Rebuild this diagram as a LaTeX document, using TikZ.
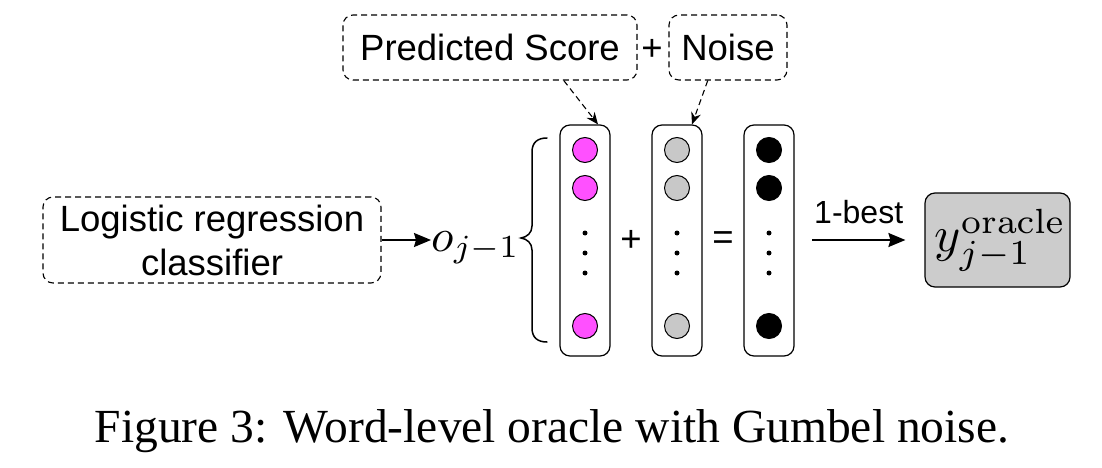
\documentclass[tikz,border=0pt]{standalone}
\usepackage[no-math]{fontspec}
\setmainfont{Liberation Serif}
\setsansfont{Liberation Sans}
\usetikzlibrary{arrows.meta,calc}
\definecolor{pinkc}{RGB}{255,80,255}
\definecolor{lgray}{RGB}{200,200,200}
\definecolor{ogray}{RGB}{204,204,204}
\tikzset{
  sansbig/.style={font=\sffamily\fontsize{36.5}{44}\selectfont},
  dbox/.style={draw, dashed, dash pattern=on 6pt off 4pt, rounded corners=10pt, line width=1.1pt, inner sep=0pt, sansbig},
  colbox/.style={draw, rounded corners=10pt, line width=1.2pt, minimum width=50pt, minimum height=231pt, inner sep=0pt},
  dotc/.style={circle, draw, line width=1pt, minimum size=25pt, inner sep=0pt},
  smalldot/.style={circle, fill=black, minimum size=5pt, inner sep=0pt},
  dar/.style={-{Stealth[length=12pt,width=10pt]}, dashed, dash pattern=on 6pt off 4pt, line width=1.1pt},
  sar/.style={-{Stealth[length=17pt,width=14pt,inset=2pt]}, line width=1.8pt},
}
\begin{document}
\begin{tikzpicture}[x=1pt,y=-1pt]
\useasboundingbox[fill=white] (0,0) rectangle (1102,468);
% top boxes
\node[dbox, minimum width=294pt, minimum height=65pt] (ps) at (490,47.5) {Predicted Score};
\node[dbox, minimum width=118pt, minimum height=65pt] (ns) at (728,47.5) {Noise};
\node[sansbig, inner sep=0pt] (plustop) at (652,50) {+};
% columns
\node[colbox] (c1) at (585,240.5) {};
\node[colbox] (c2) at (677,240.5) {};
\node[colbox] (c3) at (769,240.5) {};
\foreach \c/\x/\col in {1/585/pinkc, 2/677/lgray, 3/769/black} {
  \node[dotc, fill=\col] (a\c) at (\x,150) {};
  \node[dotc, fill=\col] (b\c) at (\x,188) {};
  \node[dotc, fill=\col] (z\c) at (\x,326) {};
  \node[smalldot] (d\c a) at (\x,233) {};
  \node[smalldot] (d\c b) at (\x,253) {};
  \node[smalldot] (d\c c) at (\x,273) {};
}
\node[sansbig, inner sep=0pt] (plusmid) at (631,241) {+};
\node[sansbig, inner sep=0pt] (eqmid) at (723,241) {=};
% dashed arrows
\draw[dar] ($(ps.south west)!0.75!(ps.south east)$) -- ($(c1.north)+(13,0)$);
\draw[dar] ($(ns.south west)!0.33!(ns.south east)$) -- ($(c2.north)+(15,0)$);
% logistic box
\node[dbox, minimum width=338pt, minimum height=86pt, align=center] (lr) at (212,240) {Logistic regression\\classifier};
\node[inner sep=0pt, anchor=base west] (o) at (431,251) {\scalebox{4.6}{$o_{j-1}$}};
\draw[sar] (lr.east) -- (o.west |- lr.east);
% brace
\draw[line width=1.5pt, line cap=round]
  (547,138) .. controls (538,138) and (532,142) .. (532,152)
  -- (532,226) .. controls (532,233) and (527,237) .. (521,238)
  .. controls (527,239) and (532,243) .. (532,250)
  -- (532,328) .. controls (532,338) and (538,342) .. (547,342);
% 1-best arrow
\coordinate (bs) at (812,240);
\node[draw, fill=ogray, rounded corners=10pt, line width=1.2pt, minimum width=145pt, minimum height=94pt, inner sep=0pt] (or) at (997.5,240) {\hspace{6pt}\scalebox{5}{$y^{\mathrm{oracle}}_{j-1}$}};
\draw[sar] (bs) -- ($(or.west)+(-19,0)$) node[midway, above=12pt, font=\sffamily\fontsize{32}{38}\selectfont] (lbl) {1-best};
% caption
\node[anchor=base, inner sep=0pt, font=\fontsize{47.5}{56}\selectfont] (cap) at (552,442) {Figure 3: Word-level oracle with Gumbel noise.};
\end{tikzpicture}
\end{document}
